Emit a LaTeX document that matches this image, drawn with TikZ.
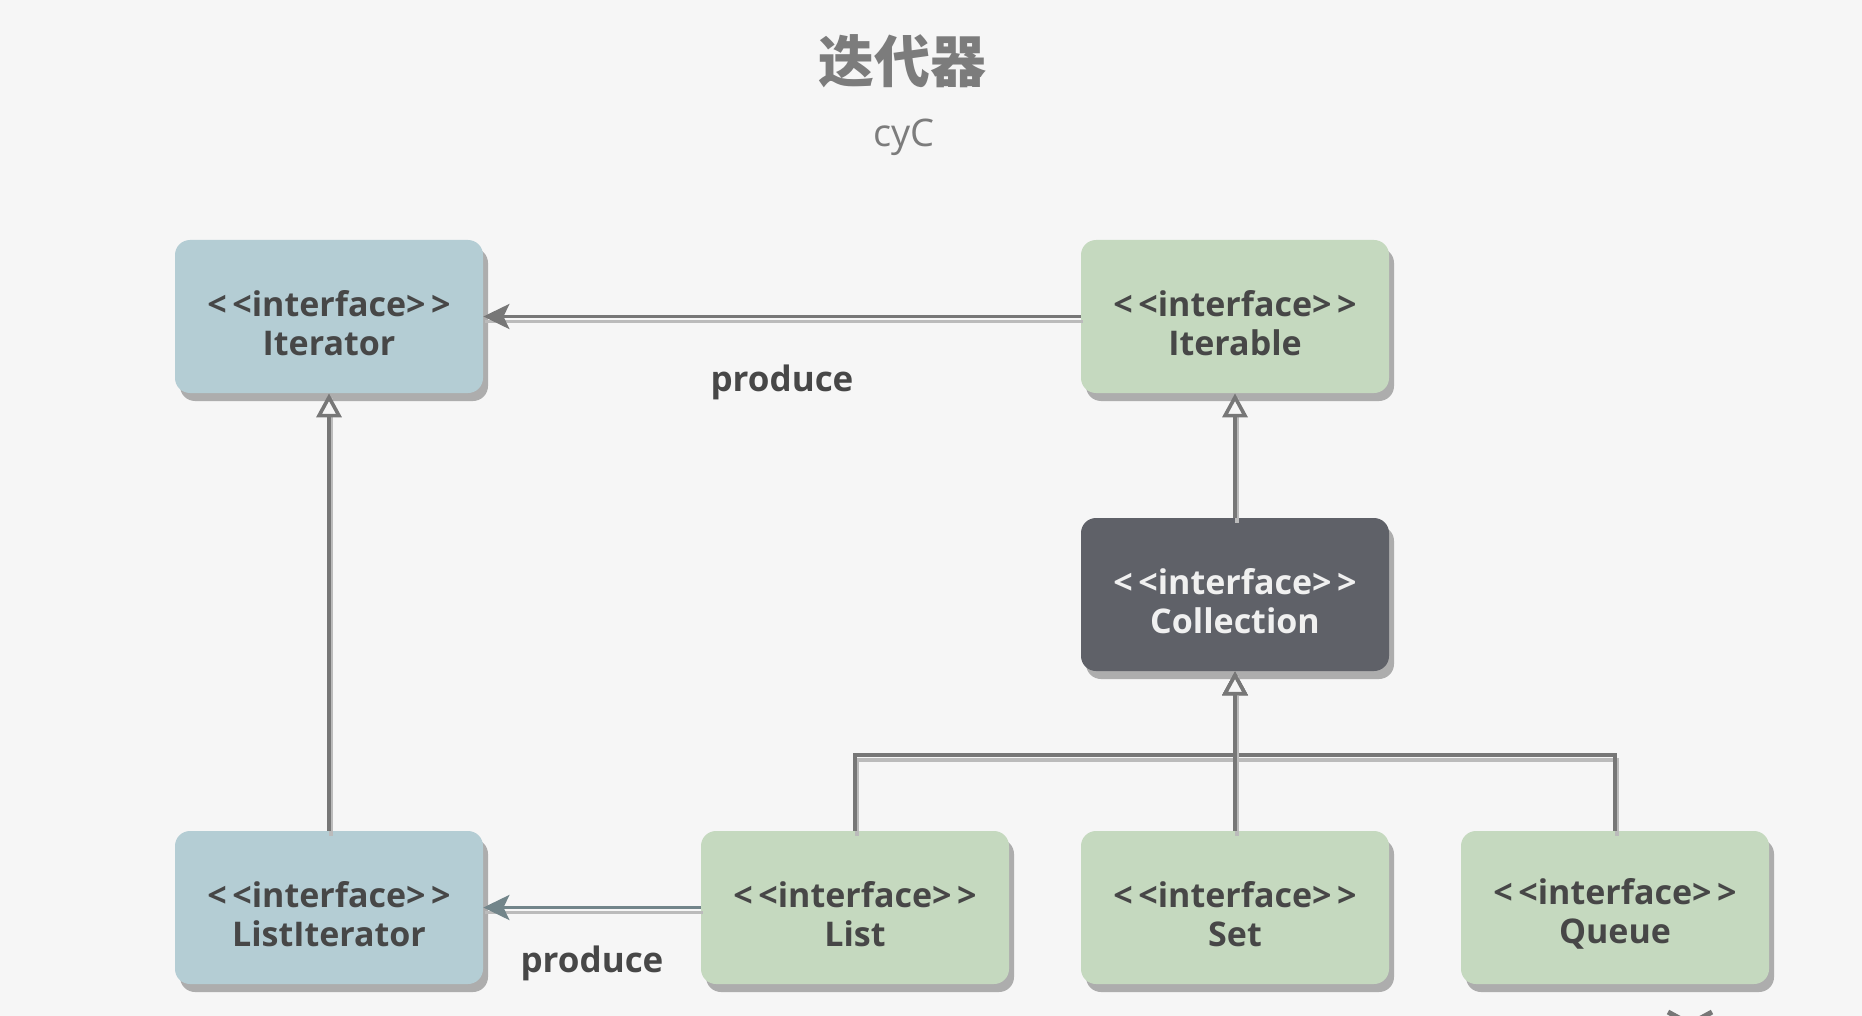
\documentclass[tikz,border=0pt]{standalone}
\usepackage{fontspec}
\setmainfont{Open Sans}
\newfontfamily\cjk{Noto Sans CJK SC}
\usetikzlibrary{arrows.meta,shadows}
\definecolor{bgcolor}{HTML}{F6F6F6}
\definecolor{itercolor}{HTML}{B4CDD4}
\definecolor{collcolor}{HTML}{C5D9BF}
\definecolor{collectiongray}{HTML}{5F6168}
\definecolor{textgray}{HTML}{474747}
\definecolor{linegray}{HTML}{777777}
\definecolor{lightline}{HTML}{BBBBBB}
\definecolor{titlegray}{HTML}{7C7C7C}
\definecolor{shadowgray}{HTML}{ADADAD}
\definecolor{bluegray}{HTML}{72858A}
\newcommand{\iface}[1]{\rule{0pt}{19.5pt}<\,<interface>\,>\\#1}
\begin{document}
\begin{tikzpicture}[x=0.5pt,y=-0.5pt,
  box/.style={rectangle, rounded corners=7.5pt, minimum width=154pt, minimum height=76.5pt,
    align=center, text=textgray, font=\bfseries\fontsize{17}{19.5}\selectfont,
    drop shadow={shadow xshift=2.5pt, shadow yshift=-4pt, fill=shadowgray, opacity=1}},
  iterbox/.style={box, fill=itercolor},
  collbox/.style={box, fill=collcolor},
  mainbox/.style={box, fill=collectiongray, text=white!94!black},
  link/.style={draw=linegray, line width=1.8pt,
    preaction={draw=lightline, line width=1.8pt, -, transform canvas={shift={(1pt,-2.5pt)}}}},
  produce/.style={link, -{Stealth[length=13pt, width=12.5pt, inset=3pt]}},
  inherit/.style={link, -{Triangle[open, length=12pt, width=12.5pt, fill=bgcolor]}},
  tag/.style={text=textgray, font=\bfseries\fontsize{17.5}{21}\selectfont}]
\useasboundingbox (0,0) rectangle (1862,1016);
\fill[bgcolor] (0,0) rectangle (1862,1016);
% Title
\node[text=titlegray] (title) at (902,61) {\cjk\bfseries\fontsize{28}{30}\selectfont 迭代器};
\node[text=titlegray] (author) at (904,137) {\fontsize{19}{21}\selectfont cyC};
% Draw interfaces
\node[iterbox] (iterator) at (329,316.5) {\iface{Iterator}};
\node[collbox] (iterable) at (1235,316.5) {\iface{Iterable}};
\node[mainbox] (collection) at (1235,594.5) {\iface{Collection}};
\node[iterbox] (listiterator) at (329,907.5) {\iface{ListIterator}};
\node[collbox] (list) at (855,907.5) {\iface{List}};
\node[collbox] (set) at (1235,907.5) {\iface{Set}};
\node[collbox] (queue) at (1615,907.5) {\iface{Queue}};
% Draw produce links
\draw[produce] (iterable.west) -- (iterator.east) node[tag, midway, yshift=-33pt] {produce};
\draw[produce, draw=bluegray] (list.west) -- (listiterator.east) node[tag, midway, yshift=-28pt] {produce};
% Draw inheritance
\coordinate (bus) at (1235,755);
\draw[inherit] (listiterator.north) -- (iterator.south);
\draw[inherit] (collection.north) -- (iterable.south);
\draw[inherit] (list.north) |- (bus) -- (collection.south);
\draw[inherit] (queue.north) |- (bus) -- (collection.south);
\draw[inherit] (set.north) -- (collection.south);
% Cut-off mark at the bottom
\draw[linegray, line width=2.5pt] (1668,1012) -- (1690,1024) -- (1712,1012);
\end{tikzpicture}
\end{document}
